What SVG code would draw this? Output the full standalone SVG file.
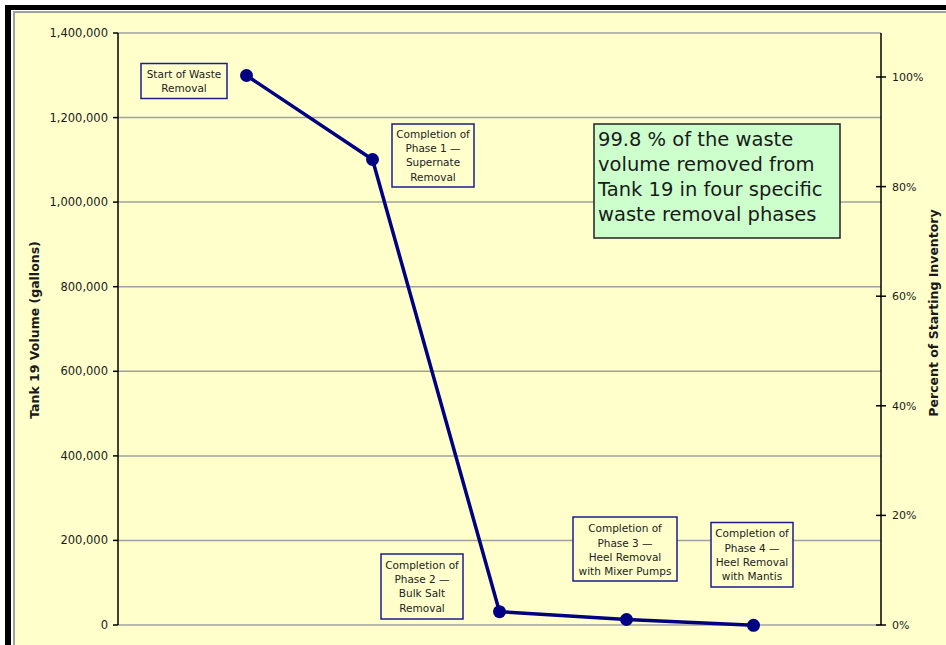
<svg xmlns="http://www.w3.org/2000/svg" width="946" height="645" viewBox="0 0 946 645">
  <style>
    .grid { stroke: #a0a0a0; stroke-width: 1.5; fill: none; }
    .axis { stroke: #000; stroke-width: 1.5; fill: none; }
    .tickL { font-family: "DejaVu Sans", Verdana, sans-serif; font-size: 11.5px; fill: #1a1a1a; text-anchor: end; }
    .tickR { font-family: "DejaVu Sans", Verdana, sans-serif; font-size: 11px; fill: #1a1a1a; text-anchor: start; }
    .title { font-family: "DejaVu Sans", Verdana, sans-serif; font-size: 12.5px; font-weight: bold; fill: #1a1a1a; text-anchor: middle; }
    .note rect { fill: #ffffcc; stroke: #1c1c8c; stroke-width: 1.5; }
    .note text { font-family: "DejaVu Sans", Verdana, sans-serif; font-size: 10.5px; fill: #222; text-anchor: middle; }
    .big rect { fill: #ccffcc; stroke: #222; stroke-width: 1.5; }
    .big text { font-family: "DejaVu Sans", Verdana, sans-serif; font-size: 19.5px; fill: #1a1a1a; }
    .series { stroke: #000080; stroke-width: 3.5; fill: none; stroke-linejoin: round; }
    .pt { fill: #000080; }
  </style>

  <!-- frame -->
  <rect x="0" y="0" width="946" height="645" fill="#ffffff"/>
  <rect x="5" y="5" width="941" height="640" fill="#000"/>
  <rect x="11" y="10" width="935" height="635" fill="#ffffff"/>
  <rect x="13" y="11" width="933" height="634" fill="#a0a0a0"/>
  <rect x="15" y="13" width="931" height="632" fill="#ffffcc"/>

  <!-- gridlines -->
  <g id="gridlines">
    <line class="grid" x1="118" y1="33" x2="881" y2="33"/>
    <line class="grid" x1="118" y1="117.6" x2="881" y2="117.6"/>
    <line class="grid" x1="118" y1="202.1" x2="881" y2="202.1"/>
    <line class="grid" x1="118" y1="286.7" x2="881" y2="286.7"/>
    <line class="grid" x1="118" y1="371.3" x2="881" y2="371.3"/>
    <line class="grid" x1="118" y1="455.9" x2="881" y2="455.9"/>
    <line class="grid" x1="118" y1="540.4" x2="881" y2="540.4"/>
    <line class="grid" x1="118" y1="625" x2="881" y2="625"/>
  </g>

  <!-- left axis -->
  <g id="axis-left">
    <line class="axis" x1="118" y1="33" x2="118" y2="625"/>
    <line class="axis" x1="113" y1="33" x2="118" y2="33"/>
    <line class="axis" x1="113" y1="117.6" x2="118" y2="117.6"/>
    <line class="axis" x1="113" y1="202.1" x2="118" y2="202.1"/>
    <line class="axis" x1="113" y1="286.7" x2="118" y2="286.7"/>
    <line class="axis" x1="113" y1="371.3" x2="118" y2="371.3"/>
    <line class="axis" x1="113" y1="455.9" x2="118" y2="455.9"/>
    <line class="axis" x1="113" y1="540.4" x2="118" y2="540.4"/>
    <line class="axis" x1="113" y1="625" x2="118" y2="625"/>
    <text class="tickL" x="108" y="37">1,400,000</text>
    <text class="tickL" x="108" y="121.6">1,200,000</text>
    <text class="tickL" x="108" y="206.1">1,000,000</text>
    <text class="tickL" x="108" y="290.7">800,000</text>
    <text class="tickL" x="108" y="375.3">600,000</text>
    <text class="tickL" x="108" y="459.9">400,000</text>
    <text class="tickL" x="108" y="544.4">200,000</text>
    <text class="tickL" x="108" y="629">0</text>
    <text class="title" transform="translate(39,330) rotate(-90)">Tank 19 Volume (gallons)</text>
  </g>

  <!-- right axis -->
  <g id="axis-right">
    <line class="axis" x1="881" y1="33" x2="881" y2="625"/>
    <line class="axis" x1="876" y1="77" x2="886" y2="77"/>
    <line class="axis" x1="876" y1="186.6" x2="886" y2="186.6"/>
    <line class="axis" x1="876" y1="296.2" x2="886" y2="296.2"/>
    <line class="axis" x1="876" y1="405.8" x2="886" y2="405.8"/>
    <line class="axis" x1="876" y1="515.4" x2="886" y2="515.4"/>
    <line class="axis" x1="876" y1="625" x2="886" y2="625"/>
    <text class="tickR" x="892" y="81">100%</text>
    <text class="tickR" x="892" y="190.6">80%</text>
    <text class="tickR" x="892" y="300.2">60%</text>
    <text class="tickR" x="892" y="409.8">40%</text>
    <text class="tickR" x="892" y="519.4">20%</text>
    <text class="tickR" x="892" y="629">0%</text>
    <text class="title" transform="translate(938,313) rotate(-90)">Percent of Starting Inventory</text>
  </g>

  <!-- connectors: data series -->
  <g id="connectors">
    <polyline class="series" points="246.5,75.5 372.5,159.5 499.5,611.7 626.5,619.5 753.5,625.3"/>
  </g>

  <!-- data points -->
  <g id="point-start"><circle class="pt" cx="246.5" cy="75.5" r="6.5"/></g>
  <g id="point-phase1"><circle class="pt" cx="372.5" cy="159.5" r="6.5"/></g>
  <g id="point-phase2"><circle class="pt" cx="499.5" cy="611.7" r="6.5"/></g>
  <g id="point-phase3"><circle class="pt" cx="626.5" cy="619.5" r="6.5"/></g>
  <g id="point-phase4"><circle class="pt" cx="753.5" cy="625.3" r="6.5"/></g>

  <!-- annotation labels -->
  <g id="label-start" class="note">
    <rect x="141" y="63.5" width="86" height="35"/>
    <text x="184" y="77.5">Start of Waste</text>
    <text x="184" y="91.5">Removal</text>
  </g>
  <g id="label-phase1" class="note">
    <rect x="392" y="124" width="82" height="63"/>
    <text x="433" y="137.5">Completion of</text>
    <text x="433" y="151.5">Phase 1 —</text>
    <text x="433" y="165.5">Supernate</text>
    <text x="433" y="181">Removal</text>
  </g>
  <g id="label-phase2" class="note">
    <rect x="381" y="554" width="82" height="65"/>
    <text x="422" y="568.5">Completion of</text>
    <text x="422" y="583">Phase 2 —</text>
    <text x="422" y="597">Bulk Salt</text>
    <text x="422" y="612">Removal</text>
  </g>
  <g id="label-phase3" class="note">
    <rect x="573" y="517" width="104" height="64"/>
    <text x="625" y="532">Completion of</text>
    <text x="625" y="546.5">Phase 3 —</text>
    <text x="625" y="560.5">Heel Removal</text>
    <text x="625" y="574.5">with Mixer Pumps</text>
  </g>
  <g id="label-phase4" class="note">
    <rect x="711" y="522.5" width="82" height="64.5"/>
    <text x="752" y="537">Completion of</text>
    <text x="752" y="551.5">Phase 4 —</text>
    <text x="752" y="565.5">Heel Removal</text>
    <text x="752" y="580">with Mantis</text>
  </g>

  <!-- summary box -->
  <g id="summary" class="big">
    <rect x="594" y="124" width="246" height="114"/>
    <text x="598" y="146">99.8 % of the waste</text>
    <text x="598" y="171">volume removed from</text>
    <text x="598" y="196">Tank 19 in four specific</text>
    <text x="598" y="221">waste removal phases</text>
  </g>
</svg>
